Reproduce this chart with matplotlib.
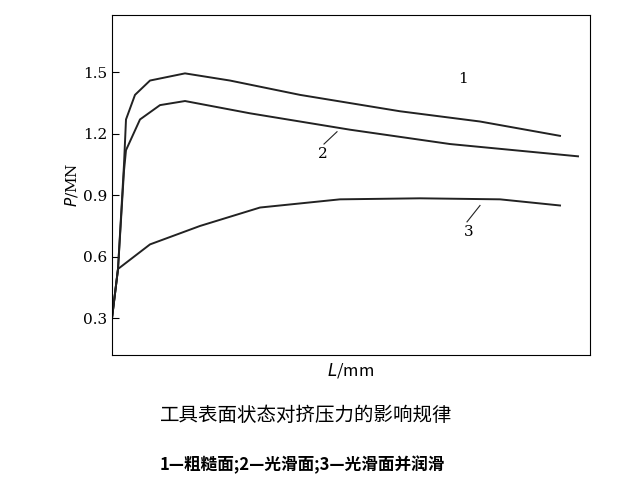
import matplotlib.pyplot as plt
import numpy as np
plt.rcParams['font.family'] = ['Noto Sans CJK SC', 'DejaVu Sans']

x1 = [0, 6, 12, 14, 23, 38, 73, 118, 188, 288, 368, 448]
y1 = [0.30, 0.54, 1.05, 1.27, 1.39, 1.46, 1.495, 1.46, 1.39, 1.31, 1.26, 1.19]
x2 = [0, 6, 12, 14, 28, 48, 73, 138, 238, 338, 466]
y2 = [0.30, 0.54, 1.02, 1.12, 1.27, 1.34, 1.36, 1.30, 1.22, 1.15, 1.09]
x3 = [0, 6, 38, 88, 148, 228, 308, 388, 448]
y3 = [0.30, 0.54, 0.66, 0.75, 0.84, 0.88, 0.885, 0.88, 0.85]
yticks = [0.3, 0.6, 0.9, 1.2, 1.5]

fig = plt.figure(figsize=(6.4, 4.99), dpi=100)
ax = fig.add_axes([112/640, 1-355/499, 478/640, 340/499])
for x, y in [(x1, y1), (x2, y2), (x3, y3)]:
    ax.plot(x, y, color='#222222', lw=1.4)
ax.set_xlim(0, 478)
ax.set_ylim(0.12, 1.78)
ax.set_yticks(yticks)
ax.set_yticklabels([f'{t:.1f}' for t in yticks], fontsize=11, family='DejaVu Serif')
ax.set_xticks([])
ax.tick_params(axis='y', direction='in', length=5)
ax.set_ylabel('$P$/MN', fontsize=11, family='DejaVu Serif', labelpad=2)
ax.set_xlabel('$L$/mm', fontsize=12, labelpad=4)
ax.text(346, 1.45, '1', fontsize=11, family='DejaVu Serif')
ax.text(206, 1.08, '2', fontsize=11, family='DejaVu Serif')
ax.plot([212, 225], [1.15, 1.21], color='#222222', lw=0.8)
ax.text(352, 0.70, '3', fontsize=11, family='DejaVu Serif')
ax.plot([355, 368], [0.77, 0.85], color='#222222', lw=0.8)
fig.text(0.25, 1-415/499, '工具表面状态对挤压力的影响规律', fontsize=14, va='center')
fig.text(0.25, 1-465/499, '1—粗糙面;2—光滑面;3—光滑面并润滑', fontsize=12, va='center', weight='bold')
fig.savefig('out.png', dpi=100)
